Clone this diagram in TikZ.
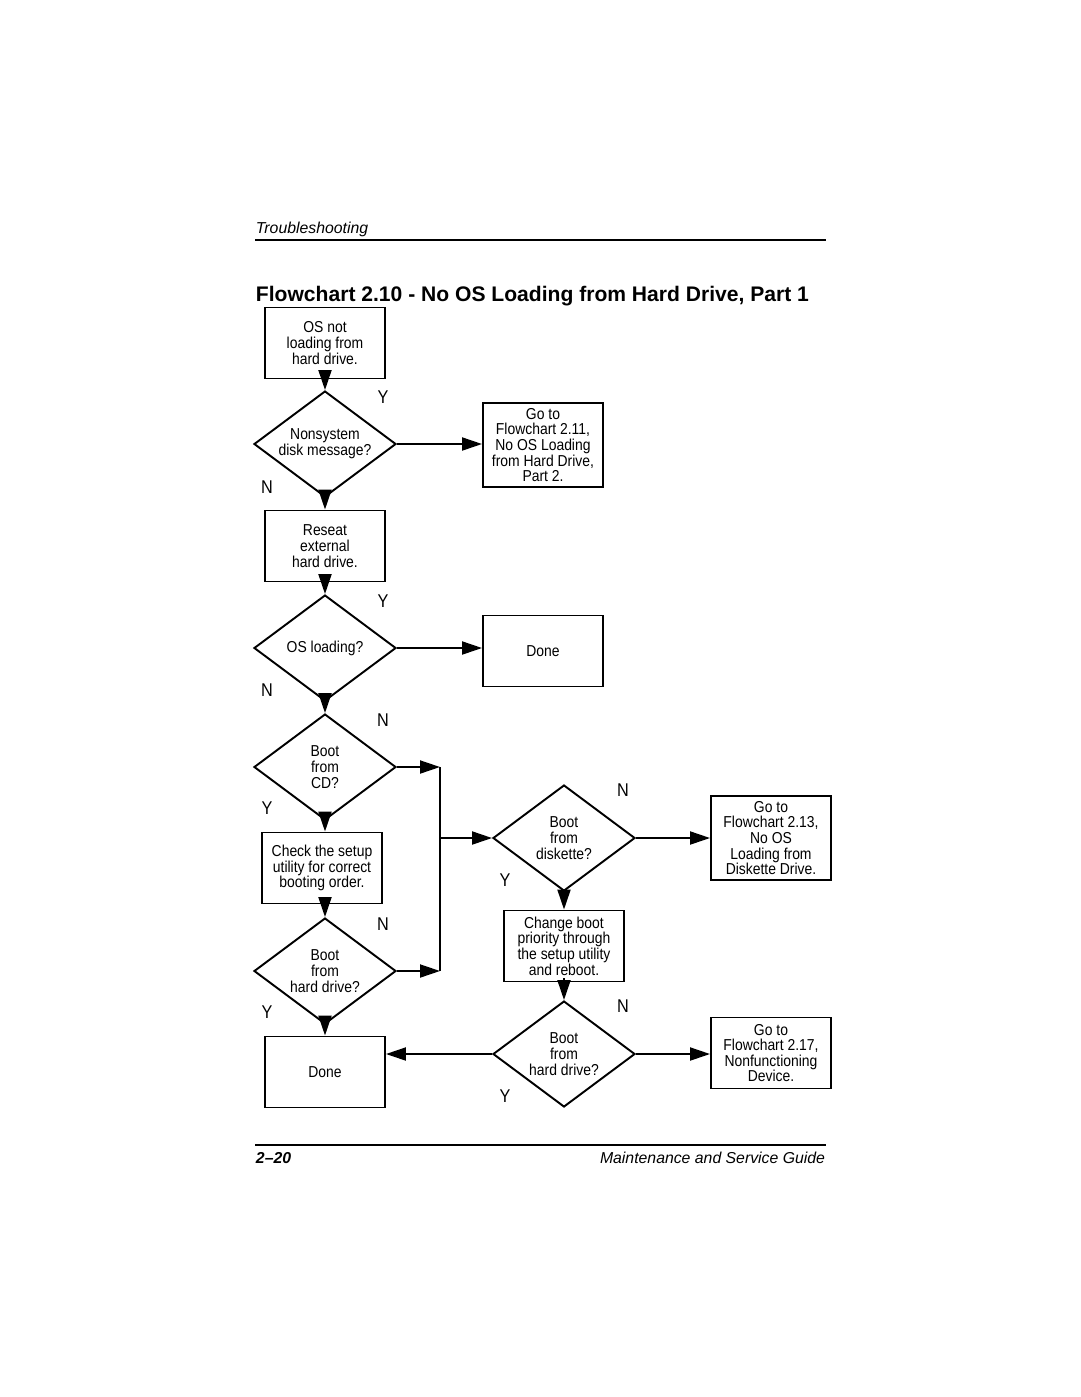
\documentclass[tikz,border=0pt]{standalone}
\usepackage{fontspec}
\setmainfont{Liberation Sans}
\newfontfamily\cond[FakeStretch=0.88]{Liberation Sans}
\usetikzlibrary{arrows.meta,shapes.geometric}

\begin{document}
\begin{tikzpicture}[x=0.02cm,y=-0.02cm,line width=1.1pt,
  box/.style={draw,rectangle,minimum width=2.4cm,minimum height=1.42cm,inner xsep=1pt,inner ysep=3pt,align=center,
    font=\cond\fontsize{9}{8.9}\selectfont},
  dec/.style={draw,diamond,shape aspect=1.34,minimum width=2.84cm,minimum height=2.12cm,inner sep=0pt,align=center,
    font=\cond\fontsize{9}{8.9}\selectfont},
  yn/.style={font=\cond\fontsize{10.5}{11}\selectfont},
  arr/.style={-{Triangle[length=0.4cm,width=0.26cm]}}]
  \useasboundingbox (0,0) rectangle (1080,1397);
  % page header
  \node[anchor=base west,inner sep=0pt,font=\itshape\fontsize{9}{10}\selectfont] (hd) at (255,233) {Troubleshooting};
  \draw[line width=0.6pt] (255,240)--(826,240);
  \node[anchor=base west,inner sep=0pt,font=\bfseries\fontsize{12}{14}\selectfont] (ttl) at (255,301)
    {Flowchart 2.10 - No OS Loading from Hard Drive, Part 1};
  % left column
  \node[box] (b1) at (325,343) {OS not\\loading from\\hard drive.};
  \node[dec] (d1) at (325,444) {Nonsystem\\disk message?};
  \node[box] (b2) at (543,445) {Go to\\Flowchart 2.11,\\No OS Loading\\from Hard Drive,\\Part 2.};
  \node[box] (b3) at (325,546) {Reseat\\external\\hard drive.};
  \node[dec] (d2) at (325,648) {OS loading?};
  \node[box] (done1) at (543,651) {Done};
  \node[dec] (d3) at (325,767) {Boot\\from\\CD?};
  \node[box] (b4) at (322,868) {Check the setup\\utility for correct\\booting order.};
  \node[dec] (d4) at (325,971) {Boot\\from\\hard drive?};
  \node[box] (done2) at (325,1072) {Done};
  % right part
  \node[dec] (d5) at (564,838) {Boot\\from\\diskette?};
  \node[box] (b5) at (771,838) {Go to\\Flowchart 2.13,\\No OS\\Loading from\\Diskette Drive.};
  \node[box] (b6) at (564,946) {Change boot\\priority through\\the setup utility\\and reboot.};
  \node[dec] (d6) at (564,1054) {Boot\\from\\hard drive?};
  \node[box] (b7) at (771,1053) {Go to\\Flowchart 2.17,\\Nonfunctioning\\Device.};
  % Y / N
  \node[yn] at (383,397) {Y};
  \node[yn] at (267,487) {N};
  \node[yn] at (383,601) {Y};
  \node[yn] at (267,690) {N};
  \node[yn] at (383,720) {N};
  \node[yn] at (267,808) {Y};
  \node[yn] at (383,924) {N};
  \node[yn] at (267,1012) {Y};
  \node[yn] at (623,790) {N};
  \node[yn] at (505,880) {Y};
  \node[yn] at (623,1006) {N};
  \node[yn] at (505,1096) {Y};
  % connectors
  \draw[arr] ([yshift=0.14cm]b1.south)--(d1.north);
  \draw[arr] (d1.east)--(d1.east-|b2.west);
  \draw[arr] (d1.south)--(b3.north);
  \draw[arr] ([yshift=0.14cm]b3.south)--(d2.north);
  \draw[arr] (d2.east)--(d2.east-|done1.west);
  \draw[arr] (d2.south)--(d3.north);
  \draw[arr] (d3.south)--(b4.north-|d3.south);
  \draw[arr] ([yshift=0.14cm]b4.south-|d4.north)--(d4.north);
  \draw[arr] (d4.south)--(done2.north);
  \coordinate (jx) at (440,0);
  \draw[arr] (d3.east)--(d3.east-|jx);
  \draw[arr] (d4.east)--(d4.east-|jx);
  \draw (d3.east-|jx)--(d4.east-|jx);
  \draw[arr] (d5.west-|jx)--(d5.west);
  \draw[arr] (d5.east)--(b5.west);
  \draw[arr] (d5.south)--(b6.north);
  \draw[arr] ([yshift=0.08cm]b6.south)--(d6.north);
  \draw[arr] (d6.east)--(d6.east-|b7.west);
  \draw[arr] (d6.west)--(d6.west-|done2.east);
  % page footer
  \draw[line width=0.6pt] (255,1145)--(826,1145);
  \node[anchor=base west,inner sep=0pt,font=\bfseries\itshape\fontsize{9}{10}\selectfont] (pg) at (255,1163) {2–20};
  \node[anchor=base east,inner sep=0pt,font=\itshape\fontsize{9}{10}\selectfont] (gd) at (826,1163) {Maintenance and Service Guide};
\end{tikzpicture}
\end{document}
